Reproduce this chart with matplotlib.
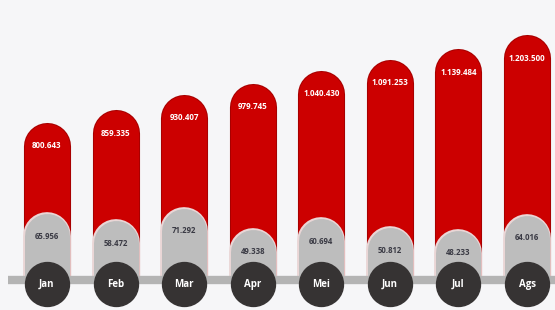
import matplotlib
matplotlib.use("Agg")
import matplotlib.pyplot as plt

months = ["Jan", "Feb", "Mar", "Apr", "Mei", "Jun", "Jul", "Ags"]
# values in thousands
red_vals = [800.643, 859.335, 930.407, 979.745, 1040.430, 1091.253, 1139.484, 1203.500]
gray_vals = [65.956, 58.472, 71.292, 49.338, 60.694, 50.812, 48.233, 64.016]


def fmt(v):
    return f"{int(round(v * 1000)):,}".replace(",", ".")


plt.rcParams['font.family'] = ['Open Sans', 'DejaVu Sans']

bg = "#F6F6F8"
fig = plt.figure(figsize=(5.55, 3.1), dpi=100, facecolor=bg)
ax = fig.add_axes([0, 0, 1, 1])
ax.set_facecolor(bg)
ax2 = ax.twinx()

x = list(range(len(months)))
bar_lw = 45 * 0.72  # 45 px wide pills

# red (big) bars
for xi, v in zip(x, red_vals):
    ax.plot([xi, xi], [0, v], color="#A80000", lw=bar_lw + 1.5, solid_capstyle="round", zorder=2)
    ax.plot([xi, xi], [0, v], color="#CC0000", lw=bar_lw, solid_capstyle="round", zorder=3)
    ax.text(xi, v, fmt(v), color="white", fontsize=5.8, fontweight="bold",
            ha="center", va="center", zorder=4)

# gray (small) bars on their own scale
for xi, v in zip(x, gray_vals):
    ax2.plot([xi, xi], [0, v], color="#EAD6D6", lw=bar_lw + 2, solid_capstyle="round", zorder=2)
    ax2.plot([xi, xi], [0, v], color="#BDBDBD", lw=bar_lw, solid_capstyle="round", zorder=3)
    ax2.text(xi, v, fmt(v), color="#3a3a44", fontsize=5.6, fontweight="bold",
             ha="center", va="center", zorder=4)

# hide bar bottoms below the baseline
mask = plt.Rectangle((0, 0), 1, 0.097, transform=ax2.transAxes, color=bg, zorder=5)
ax2.add_patch(mask)

# baseline
ax2.plot([0.015, 1.0], [0.097, 0.097], transform=ax2.transAxes, color="#B4B4B4",
         lw=6, solid_capstyle="butt", zorder=6)

# month circles
circ_y = [0.084] * len(months)
ax2.scatter(x, circ_y, s=1000, color="#363333", transform=ax2.get_xaxis_transform(), zorder=7)
for xi, m in zip(x, months):
    ax2.text(xi, 0.082, m, transform=ax2.get_xaxis_transform(), color="white",
             fontsize=7, fontweight="bold", ha="center", va="center", zorder=8)

ax.set_xlim(-0.685, 7.408)
ax.set_ylim(43.8, 1473)
ax2.set_ylim(-11.8, 314.2)
for a in (ax, ax2):
    a.axis("off")

fig.savefig("out.png", dpi=100, facecolor=bg)
